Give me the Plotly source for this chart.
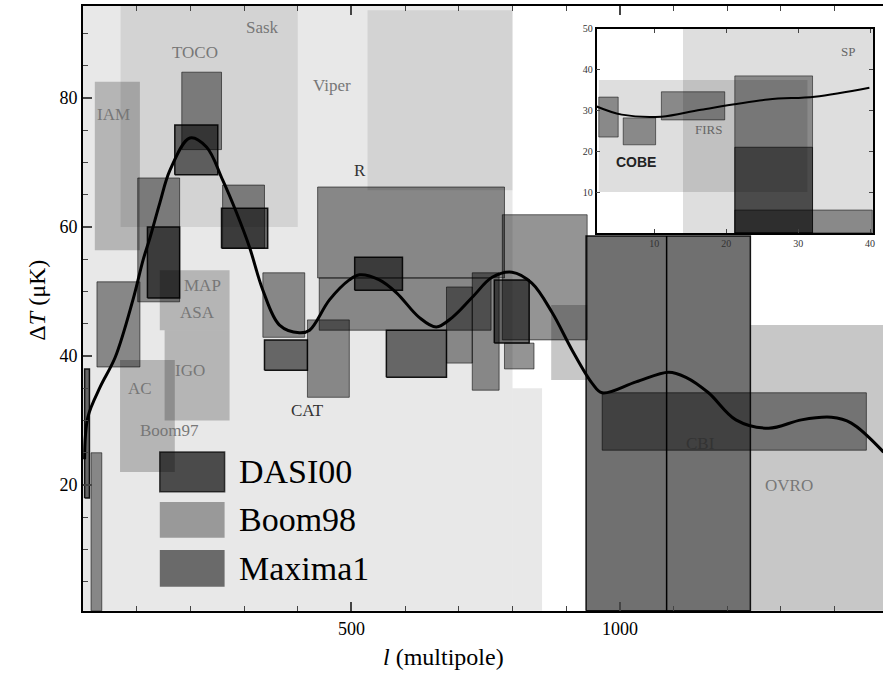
import plotly.graph_objects as go

# ---------------- data (multipole l, Delta T in microK) ----------------
bg_l0 = [0, 530, 70, 800]
bg_l1 = [800, 800, 400, 855]
bg_t0 = [0.5, 65.7, 60, 0.5]
bg_t1 = [94.3, 93.6, 94.3, 35]

boom_l0 = [22, 69, 152, 143, 872, 1243]
boom_l1 = [106, 171, 273, 273, 939, 1490]
boom_t0 = [56.4, 22, 30, 44, 36.3, 0.5]
boom_t1 = [82.5, 39.4, 44, 53.3, 47.9, 44.8]

max_l0 = [184, 102, 260, 26, 335, 418, 437, 440, 781, 677, 725, 785, 967, 15]
max_l1 = [258, 180, 338, 106, 413, 496, 785, 760, 939, 725, 775, 840, 1459, 35]
max_t0 = [72, 48.4, 56.7, 38.3, 42.9, 33.6, 52.1, 44, 42.5, 38.9, 34.7, 38, 25.4, 0.5]
max_t1 = [84, 67.6, 66.5, 51.5, 52.9, 45.6, 66.2, 52.1, 61.9, 50.7, 52.9, 42, 34.3, 25]

dasi_l0 = [171, 258, 120, 338, 506, 565, 766, 937, 3]
dasi_l1 = [251, 344, 180, 418, 595, 677, 831, 1243, 12]
dasi_t0 = [68.1, 56.7, 49, 37.8, 50.2, 36.7, 42, 0.5, 18]
dasi_t1 = [75.8, 62.9, 60, 42.5, 55.3, 44, 51.8, 58.6, 38]

cbi_line_l = [1087, 1087]
cbi_line_t = [0.5, 58.6]

model_l = [3, 9, 32, 60, 93, 112, 125, 143, 162, 199, 230, 260, 286, 310, 335, 366, 403,
           422, 459, 496, 515, 552, 584, 626, 658, 688, 725, 762, 799, 836, 874, 911, 948,
           967, 1030, 1091, 1123, 1165, 1216, 1277, 1338, 1394, 1431, 1491]
model_t = [24, 30.5, 35.2, 39.8, 48.7, 54.9, 58.4, 63.7, 68.8, 73.8, 72.4, 67.3, 62.2, 56.9,
           50.2, 44.8, 43.6, 44.0, 48.7, 51.8, 52.6, 51.8, 49.8, 46.0, 44.5, 46.0, 49.1, 52.2,
           53.0, 51.3, 46.7, 40.9, 35.8, 34.3, 36.0, 37.5, 36.7, 34.3, 30.1, 28.8, 30.1, 30.5,
           29.6, 25.1]

label_text = ["Sask", "TOCO", "Viper", "IAM", "R", "MAP", "ASA", "IGO", "AC", "Boom97",
              "CAT", "CBI", "OVRO"]
label_l = [335, 209, 463, 56, 515, 223, 214, 199, 106, 162, 418, 1150, 1314]
label_t = [90.9, 87.1, 82, 77.4, 68.8, 51, 46.7, 37.8, 35, 28.5, 31.6, 26.5, 20]
label_dark = [False, False, False, False, True, False, False, False, False, False, True, True, False]

# inset (low multipoles)
in_bg_l0 = [14, 2.3]
in_bg_l1 = [40.4, 31.3]
in_bg_t0 = [0, 10]
in_bg_t1 = [50, 37.5]

in_med_l0 = [2.3, 5.7, 11, 21.2, 21.2]
in_med_l1 = [5.0, 10.2, 19.8, 32, 40.3]
in_med_t0 = [23.5, 21.6, 27.7, 0, 0]
in_med_t1 = [33.3, 28.2, 34.6, 38.5, 5.6]

in_dark_l0 = [21.2]
in_dark_l1 = [32]
in_dark_t0 = [0]
in_dark_t1 = [21]

in_model_l = [2, 5.5, 11, 16.5, 25.8, 32.3, 39.9]
in_model_t = [31, 29, 28.5, 30.2, 32.7, 33.4, 35.6]

in_label_text = ["<b>COBE</b>", "FIRS", "SP"]
in_label_l = [7.5, 17.6, 36.9]
in_label_t = [17.3, 25.4, 44.4]

legend_names = ["DASI00", "Boom98", "Maxima1"]

# ---------------- figure ----------------
SERIF = "Liberation Serif, Times New Roman, serif"
fig = go.Figure()


def add_boxes(l0, l1, t0, t1, fill, line_color, line_width, xa="x", ya="y"):
    for a, b, c, d in zip(l0, l1, t0, t1):
        fig.add_trace(go.Scatter(
            x=[a, b, b, a, a], y=[c, c, d, d, c], mode="lines", fill="toself",
            fillcolor=fill, line=dict(color=line_color, width=line_width),
            hoverinfo="skip", showlegend=False, xaxis=xa, yaxis=ya))


add_boxes(bg_l0, bg_l1, bg_t0, bg_t1, "rgba(0,0,0,0.09)", "rgba(0,0,0,0)", 0)
add_boxes(boom_l0, boom_l1, boom_t0, boom_t1, "rgba(0,0,0,0.22)", "rgba(0,0,0,0)", 0)
add_boxes(max_l0, max_l1, max_t0, max_t1, "rgba(0,0,0,0.42)", "rgba(0,0,0,0.55)", 1)
add_boxes(dasi_l0, dasi_l1, dasi_t0, dasi_t1, "rgba(0,0,0,0.56)", "rgba(0,0,0,0.9)", 1.5)

fig.add_trace(go.Scatter(x=cbi_line_l, y=cbi_line_t, mode="lines",
                         line=dict(color="black", width=1.5), hoverinfo="skip", showlegend=False))
fig.add_trace(go.Scatter(x=model_l, y=model_t, mode="lines", line=dict(color="black", width=3, shape="spline"),
                         hoverinfo="skip", showlegend=False))

# inset
add_boxes(in_bg_l0, in_bg_l1, in_bg_t0, in_bg_t1, "rgba(0,0,0,0.13)", "rgba(0,0,0,0)", 0, "x2", "y2")
add_boxes(in_med_l0, in_med_l1, in_med_t0, in_med_t1, "rgba(0,0,0,0.38)", "rgba(0,0,0,0.5)", 1, "x2", "y2")
add_boxes(in_dark_l0, in_dark_l1, in_dark_t0, in_dark_t1, "rgba(0,0,0,0.45)", "rgba(0,0,0,0.6)", 1, "x2", "y2")
fig.add_trace(go.Scatter(x=in_model_l, y=in_model_t, mode="lines", line=dict(color="black", width=2, shape="spline"),
                         hoverinfo="skip", showlegend=False, xaxis="x2", yaxis="y2"))

annotations = []
for txt, l, t, dk in zip(label_text, label_l, label_t, label_dark):
    annotations.append(dict(x=l, y=t, xref="x", yref="y", text=txt, showarrow=False,
                            font=dict(family=SERIF, size=17, color="#333" if dk else "#777")))
for txt, l, t in zip(in_label_text, in_label_l, in_label_t):
    annotations.append(dict(x=l, y=t, xref="x2", yref="y2", text=txt, showarrow=False,
                            font=dict(family="Liberation Sans, Arial, sans-serif" if "COBE" in txt else SERIF,
                                      size=14 if "COBE" in txt else 13,
                                      color="#222" if "COBE" in txt else "#666")))

# legend (manual, large swatches)
sw_fill = ["rgba(0,0,0,0.68)", "rgba(0,0,0,0.34)", "rgba(0,0,0,0.54)"]
sw_y = [(0.197, 0.263), (0.121, 0.180), (0.040, 0.101)]
shapes = []
for name, f, (ya, yb) in zip(legend_names, sw_fill, sw_y):
    shapes.append(dict(type="rect", xref="paper", yref="paper", x0=0.096, x1=0.177, y0=ya, y1=yb,
                       fillcolor=f, line=dict(color="rgba(0,0,0,0.7)" if name == "DASI00" else "rgba(0,0,0,0)", width=1.5)))
    annotations.append(dict(x=0.193, y=(ya + yb) / 2, xref="paper", yref="paper", text=name,
                            showarrow=False, xanchor="left", yanchor="middle",
                            font=dict(family=SERIF, size=34, color="black")))

annotations.append(dict(x=-0.058, y=0.514, xref="paper", yref="paper", text="Δ<i>T</i> (μK)",
                        textangle=-90, showarrow=False, xanchor="center", yanchor="middle",
                        font=dict(family=SERIF, size=24, color="black")))
annotations.append(dict(x=0.451, y=-0.076, xref="paper", yref="paper", text="<i>l</i> (multipole)",
                        showarrow=False, xanchor="center", yanchor="middle",
                        font=dict(family=SERIF, size=24, color="black")))

fig.update_layout(
    width=885, height=680,
    margin=dict(l=83, r=0, t=6, b=69),
    paper_bgcolor="white", plot_bgcolor="rgba(0,0,0,0)",
    showlegend=False,
    annotations=annotations, shapes=shapes,
    xaxis=dict(range=[0, 1490], showgrid=False, zeroline=False, showline=True, linecolor="black",
               linewidth=2, mirror="ticks", ticks="inside", ticklen=9, tickwidth=1.5,
               tickvals=[500, 1000], ticktext=["500", "1000"],
               tickfont=dict(family=SERIF, size=18, color="black"),
               minor=dict(dtick=100, ticks="inside", ticklen=5, tickwidth=1.2, showgrid=False)),
    yaxis=dict(range=[0.47, 94.26], showgrid=False, zeroline=False, showline=True, linecolor="black",
               linewidth=2, ticks="inside", ticklen=9, tickwidth=1.5,
               tickvals=[20, 40, 60, 80], ticktext=["20", "40", "60", "80"],
               tickfont=dict(family=SERIF, size=18, color="black"),
               minor=dict(dtick=5, ticks="inside", ticklen=5, tickwidth=1.2, showgrid=False)),
    xaxis2=dict(domain=[0.642, 0.9875], anchor="y2", range=[2, 40.4], showgrid=False, zeroline=False,
                showline=True, linecolor="black", linewidth=1.5, mirror="ticks", ticks="inside",
                ticklen=4, tickvals=[10, 20, 30, 40], tickfont=dict(family=SERIF, size=10, color="#333")),
    yaxis2=dict(domain=[0.625, 0.962], anchor="x2", range=[0, 50], showgrid=False, zeroline=False,
                showline=True, linecolor="black", linewidth=1.5, mirror="ticks", ticks="inside",
                ticklen=4, tickvals=[10, 20, 30, 40, 50], tickfont=dict(family=SERIF, size=10, color="#333")),
)

fig.write_html("out.html", config={"displayModeBar": False},
               post_script="document.body.style.margin='0';")
